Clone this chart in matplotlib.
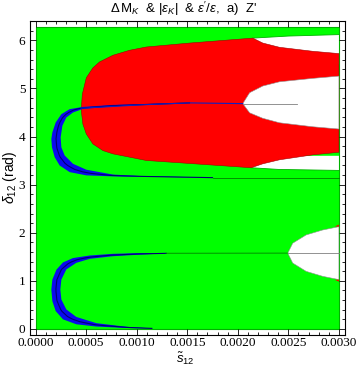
import numpy as np
import matplotlib
matplotlib.use("Agg")
import matplotlib.pyplot as plt
from matplotlib.ticker import MultipleLocator, FixedLocator

plt.rcParams['mathtext.fontset'] = 'custom'
plt.rcParams['mathtext.rm'] = 'Liberation Sans'
plt.rcParams['mathtext.it'] = 'Liberation Sans:italic'
plt.rcParams['mathtext.bf'] = 'Liberation Sans:bold'

TWO_PI = 2 * np.pi

# ---------------- data ----------------
# full allowed (green) domain
green_x = [0.0, 0.003]
green_y0 = [0.0, 0.0]
green_y1 = [TWO_PI, TWO_PI]

# upper red region: top and bottom boundaries
red_top_x = [0.0004526, 0.0004624, 0.000502, 0.000567, 0.000633, 0.000765, 0.000930,
             0.001095, 0.001523, 0.002148, 0.002247, 0.002412, 0.002741, 0.003]
red_top_y = [4.576, 4.879, 5.222, 5.428, 5.552, 5.690, 5.794,
             5.862, 5.944, 6.047, 5.944, 5.856, 5.773, 5.725]
red_bot_x = [0.0004526, 0.000468, 0.000502, 0.000567, 0.000666, 0.000765, 0.001095,
             0.001523, 0.002132, 0.002247, 0.002412, 0.002741, 0.003]
red_bot_y = [4.535, 4.260, 4.054, 3.847, 3.709, 3.641, 3.503,
             3.441, 3.352, 3.434, 3.517, 3.620, 3.674]

# white wedge above red (below the thin green strip)
wedge_hi_x = [0.002148, 0.0025, 0.003]
wedge_hi_y = [6.047, 6.09, 6.12]
# white wedge below red (above the green)
wedge_lo_x = [0.002132, 0.0024, 0.003]
wedge_lo_y = [3.352, 3.317, 3.296]

# white hole inside the red region
hole_up_x = [0.002049, 0.002117, 0.002247, 0.002412, 0.002741, 0.003]
hole_up_top = [4.685, 4.912, 5.051, 5.139, 5.210, 5.257]
hole_up_bot = [4.685, 4.494, 4.380, 4.287, 4.204, 4.157]

# white hole inside the lower green region
hole_lo_x = [0.002494, 0.002543, 0.002676, 0.002840, 0.003]
hole_lo_top = [1.577, 1.783, 1.955, 2.058, 2.126]
hole_lo_bot = [1.577, 1.370, 1.197, 1.094, 1.026]

# lower blue band (C shape): outer and inner edges
lowC_out_x = [0.001292, 0.001030, 0.000765, 0.000535, 0.000370, 0.000271, 0.000206, 0.000166,
              0.000156, 0.000166, 0.000199, 0.000271, 0.000403, 0.000601, 0.000900, 0.001150]
lowC_out_y = [1.572, 1.577, 1.562, 1.527, 1.474, 1.383, 1.232, 1.026,
              0.819, 0.578, 0.372, 0.200, 0.097, 0.050, 0.020, 0.012]
lowC_in_x = [0.001292, 0.001030, 0.000765, 0.000535, 0.000403, 0.000304, 0.000255,
             0.000245, 0.000255, 0.000304, 0.000403, 0.000601, 0.000900, 0.001150]
lowC_in_y = [1.572, 1.545, 1.512, 1.458, 1.375, 1.237, 1.026,
             0.819, 0.613, 0.406, 0.250, 0.120, 0.045, 0.012]

# upper blue band (C shape): outer and inner edges
upC_out_x = [0.001523, 0.001030, 0.000765, 0.000468, 0.000337, 0.000255, 0.000199, 0.000166,
             0.000156, 0.000162, 0.000189, 0.000238, 0.000337, 0.000502, 0.000765, 0.001030, 0.00175]
upC_out_y = [4.700, 4.673, 4.658, 4.617, 4.570, 4.466, 4.293, 4.087,
             3.950, 3.777, 3.571, 3.399, 3.261, 3.193, 3.172, 3.166, 3.146]
upC_in_x = [0.001523, 0.001030, 0.000765, 0.000468, 0.000370, 0.000304, 0.000265,
            0.000248, 0.000255, 0.000288, 0.000370, 0.000502, 0.000765, 0.001030, 0.00175]
upC_in_y = [4.700, 4.655, 4.625, 4.575, 4.500, 4.396, 4.225,
            3.983, 3.777, 3.606, 3.434, 3.311, 3.210, 3.180, 3.146]

# thin contour lines continuing the bands
line_up_x = [0.00045, 0.00105, 0.00152, 0.002049]
line_up_y = [4.59, 4.66, 4.70, 4.685]
gray_up_x = [0.002049, 0.00259]
gray_up_y = [4.685, 4.685]
line_mid_x = [0.00175, 0.003]
line_mid_y = [3.146, 3.146]
line_lo_x = [0.00129, 0.002494]
line_lo_y = [1.574, 1.577]
gray_lo_x = [0.002494, 0.003]
gray_lo_y = [1.577, 1.577]

xticks = [0.0, 0.0005, 0.0010, 0.0015, 0.0020, 0.0025, 0.0030]
xticklabels = ["0.0000", "0.0005", "0.0010", "0.0015", "0.0020", "0.0025", "0.0030"]
yticks = [0, 1, 2, 3, 4, 5, 6]

# ---------------- drawing ----------------
GREEN = '#00ff00'
GREEN_EDGE = '#00b000'
RED = '#ff0000'
BLUE = '#0a0aee'
NAVY = '#000070'

fig = plt.figure(figsize=(3.6, 3.77), dpi=100)
ax = fig.add_axes([29.5 / 360, 1 - 335 / 377, (345 - 29.5) / 360, (335 - 20.7) / 377])

ax.fill_between(green_x, green_y0, green_y1, facecolor=GREEN, edgecolor=GREEN_EDGE, linewidth=0.8, zorder=1)

# white wedges
ax.fill(list(wedge_hi_x) + [0.003, 0.002148], list(wedge_hi_y) + [5.5, 5.5],
        facecolor='white', edgecolor='none', zorder=2)
ax.fill(list(wedge_lo_x) + [0.003, 0.002132], list(wedge_lo_y) + [3.6, 3.6],
        facecolor='white', edgecolor='none', zorder=2)
ax.plot(wedge_hi_x, wedge_hi_y, color=GREEN_EDGE, lw=0.6, zorder=2.1)
ax.plot(wedge_lo_x, wedge_lo_y, color=GREEN_EDGE, lw=0.6, zorder=2.1)

# red region
ax.fill(list(red_top_x) + list(red_bot_x[::-1]), list(red_top_y) + list(red_bot_y[::-1]),
        facecolor=RED, edgecolor='#a00000', linewidth=0.4, zorder=3)

# white holes
ax.fill(list(hole_up_x) + list(hole_up_x[::-1]), list(hole_up_top) + list(hole_up_bot[::-1]),
        facecolor='white', edgecolor='#909090', linewidth=0.4, zorder=4)
ax.fill(list(hole_lo_x) + list(hole_lo_x[::-1]), list(hole_lo_top) + list(hole_lo_bot[::-1]),
        facecolor='white', edgecolor='#909090', linewidth=0.4, zorder=4)
# tiny red corners at the lower hole
ax.fill([0.00296, 0.003, 0.003], [2.133, 2.126, 2.17], facecolor=RED, edgecolor='none', zorder=4.1)
ax.fill([0.00296, 0.003, 0.003], [1.020, 1.026, 0.985], facecolor=RED, edgecolor='none', zorder=4.1)

# blue bands
ax.fill(list(lowC_out_x) + list(lowC_in_x[::-1]), list(lowC_out_y) + list(lowC_in_y[::-1]),
        facecolor=BLUE, edgecolor='none', zorder=5)
ax.fill(list(upC_out_x) + list(upC_in_x[::-1]), list(upC_out_y) + list(upC_in_y[::-1]),
        facecolor=BLUE, edgecolor='none', zorder=5)

# dark centre lines of the bands
def centre(ox, oy, ix, iy):
    ox, oy, ix, iy = map(np.asarray, (ox, oy, ix, iy))
    t = np.linspace(0, 1, 200)
    def resample(x, y):
        d = np.r_[0, np.cumsum(np.hypot(np.diff(x) / 0.003 * 315, np.diff(y) / 6.5 * 315))]
        d /= d[-1]
        return np.interp(t, d, x), np.interp(t, d, y)
    a = resample(ox, oy)
    b = resample(ix, iy)
    return (a[0] + b[0]) / 2, (a[1] + b[1]) / 2

cx, cy = centre(lowC_out_x, lowC_out_y, lowC_in_x, lowC_in_y)
ax.plot(cx, cy, color=NAVY, lw=0.8, zorder=6)
cx, cy = centre(upC_out_x, upC_out_y, upC_in_x, upC_in_y)
ax.plot(cx, cy, color=NAVY, lw=0.8, zorder=6)

ax.plot(line_up_x, line_up_y, color='#1020c0', lw=0.8, zorder=6)
ax.plot(gray_up_x, gray_up_y, color='#808080', lw=0.6, zorder=6)
ax.plot(line_mid_x, line_mid_y, color='#008000', lw=0.6, zorder=6)
ax.plot(line_lo_x, line_lo_y, color='#008000', lw=0.6, zorder=6)
ax.plot(gray_lo_x, gray_lo_y, color='#808080', lw=0.6, zorder=6)

# axes styling (Mathematica-like frame)
ax.set_xlim(-0.00006, 0.00306)
ax.set_ylim(-0.1257, 6.409)
ax.xaxis.set_major_locator(FixedLocator(xticks))
ax.set_xticklabels(xticklabels)
ax.xaxis.set_minor_locator(MultipleLocator(0.0001))
ax.yaxis.set_major_locator(FixedLocator(yticks))
ax.yaxis.set_minor_locator(MultipleLocator(0.2))
ax.tick_params(which='both', direction='in', top=True, right=True, width=0.6, color='black')
ax.tick_params(which='major', length=4.0)
ax.tick_params(which='minor', length=2.0)
ax.tick_params(axis='x', which='major', pad=1.5)
ax.tick_params(axis='y', which='major', pad=3)
for lab in ax.get_xticklabels() + ax.get_yticklabels():
    lab.set_fontfamily('Liberation Serif')
    lab.set_fontsize(9.5)
for sp in ax.spines.values():
    sp.set_linewidth(0.8)

fig.text(183.5 / 360, 1 - 8.5 / 377,
         r"$\Delta\,\mathrm{M}_{K}$  & $|\epsilon_{K}|$  & $\epsilon'/\epsilon$,  a)  Z'",
         ha='center', va='center', fontsize=9.5, family='Liberation Sans')
fig.text(185 / 360, 1 - 359 / 377, r"$\tilde{s}_{12}$", ha='center', va='center',
         fontsize=9.5, family='Liberation Sans')
fig.text(10 / 360, 1 - 177 / 377, r"$\delta_{12}$ (rad)", ha='center', va='center',
         rotation=90, fontsize=10, family='Liberation Sans')

fig.savefig('out.png', dpi=100)
